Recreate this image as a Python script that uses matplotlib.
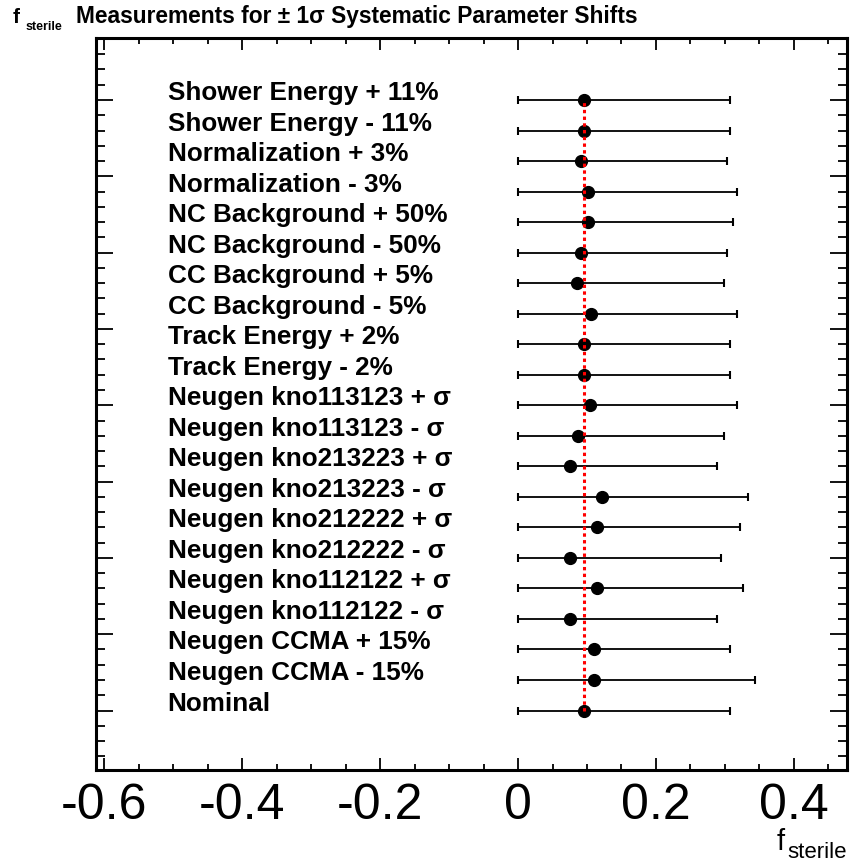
import numpy as np
import matplotlib.pyplot as plt
from matplotlib.ticker import MultipleLocator, FixedLocator, NullFormatter

plt.rcParams['font.family'] = ['Liberation Sans', 'DejaVu Sans']

# systematic shifts, top to bottom
labels = ['Shower Energy + 11%', 'Shower Energy - 11%',
          'Normalization + 3%', 'Normalization - 3%',
          'NC Background + 50%', 'NC Background - 50%',
          'CC Background + 5%', 'CC Background - 5%',
          'Track Energy + 2%', 'Track Energy - 2%',
          'Neugen kno113123 + σ', 'Neugen kno113123 - σ',
          'Neugen kno213223 + σ', 'Neugen kno213223 - σ',
          'Neugen kno212222 + σ', 'Neugen kno212222 - σ',
          'Neugen kno112122 + σ', 'Neugen kno112122 - σ',
          'Neugen CCMA + 15%', 'Neugen CCMA - 15%',
          'Nominal']
fval = [0.096, 0.096, 0.091, 0.102, 0.102, 0.091, 0.086, 0.106, 0.096, 0.096,
        0.105, 0.087, 0.075, 0.122, 0.115, 0.075, 0.115, 0.075, 0.110, 0.110,
        0.095]
flow = [0.0] * 21
fhigh = [0.308, 0.308, 0.303, 0.317, 0.312, 0.303, 0.298, 0.317, 0.308, 0.308,
         0.317, 0.298, 0.289, 0.334, 0.322, 0.294, 0.326, 0.289, 0.308, 0.343,
         0.308]
nominal = 0.095

fval = np.array(fval)
ypos = np.arange(len(labels), 0, -1)

fig = plt.figure(figsize=(8.51, 8.65), dpi=100)
ax = fig.add_axes([0.1128, 0.1098, 0.8825, 0.8462])

xerr = [fval - np.array(flow), np.array(fhigh) - fval]
ax.errorbar(fval, ypos, xerr=xerr, fmt='o', color='black', ms=8.5,
            elinewidth=1.3, capsize=2.6, capthick=1.5, zorder=3)
ax.plot([nominal, nominal], [ypos[-1], ypos[0]], color='red', lw=2.2,
        ls=(0, (1.1, 1.1)), zorder=4)

for lab, y in zip(labels, ypos):
    ax.text(-0.508, y, lab, fontsize=18.8, fontweight='bold', va='baseline', ha='left')

ax.set_xlim(-0.612, 0.477)
ax.set_ylim(-0.95, 23.03)
ax.xaxis.set_major_locator(MultipleLocator(0.2))
ax.xaxis.set_minor_locator(MultipleLocator(0.05))
ax.yaxis.set_major_locator(FixedLocator(np.arange(1, 23, 2.5)))
ax.yaxis.set_minor_locator(MultipleLocator(0.5))
ax.yaxis.set_major_formatter(NullFormatter())
ax.set_xticks([-0.6, -0.4, -0.2, 0, 0.2, 0.4])
ax.set_xticklabels(['-0.6', '-0.4', '-0.2', '0', '0.2', '0.4'])
ax.tick_params(which='both', direction='in', top=True, right=True, width=1.3)
ax.tick_params(axis='x', which='major', length=8.6, labelsize=36, pad=9)
ax.tick_params(axis='x', which='minor', length=4.3)
ax.tick_params(axis='y', which='major', length=12)
ax.tick_params(axis='y', which='minor', length=6.5)
for s in ax.spines.values():
    s.set_linewidth(2.2)

# axis title in the bottom right corner
fig.text(0.9125, 0.0173, 'f', fontsize=21, ha='left', va='baseline')
fig.text(0.9955, 0.0081, 'sterile', fontsize=16, ha='right', va='baseline')

# canvas title
fig.text(0.0153, 0.973, 'f', fontsize=15, fontweight='bold', va='baseline')
fig.text(0.0294, 0.9653, 'sterile', fontsize=9, fontweight='bold', va='baseline')
fig.text(0.0893, 0.973, 'Measurements for ± 1σ Systematic Parameter Shifts',
         fontsize=16.4, fontweight='bold', va='baseline')

fig.savefig('out.png', dpi=100)
